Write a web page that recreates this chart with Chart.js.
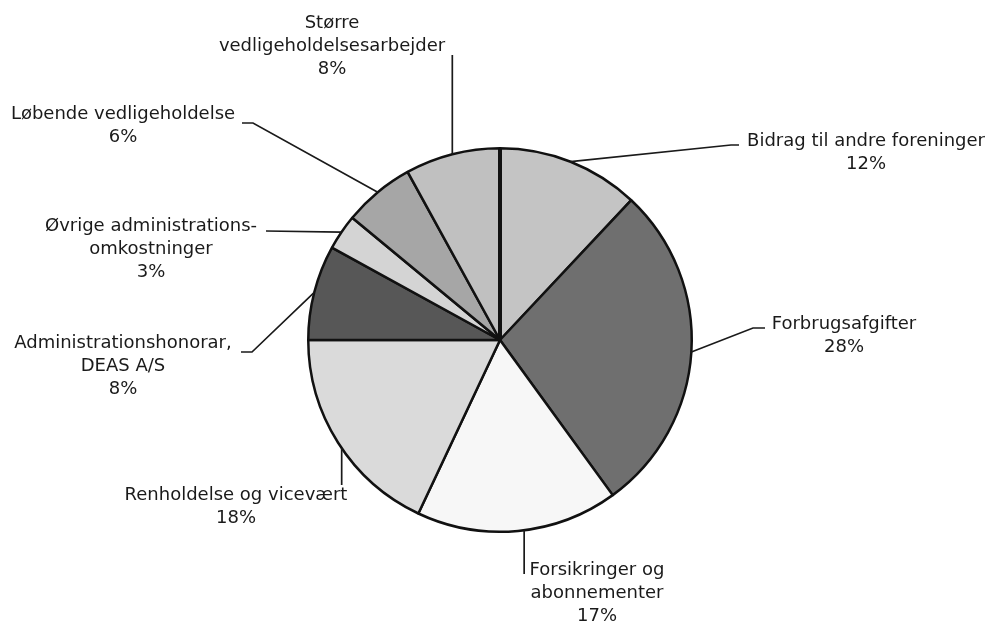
<!DOCTYPE html>
<html>
<head>
<meta charset="utf-8">
<script src="https://cdn.jsdelivr.net/npm/chart.js@4/dist/chart.umd.min.js"></script>
<style>
html,body{margin:0;padding:0;background:#fff;}
canvas{display:block;}
</style>
</head>
<body>
<canvas id="c" width="992" height="622"></canvas>
<script>
const categories = [
  'Bidrag til andre foreninger',
  'Forbrugsafgifter',
  'Forsikringer og abonnementer',
  'Renholdelse og vicevært',
  'Administrationshonorar, DEAS A/S',
  'Øvrige administrationsomkostninger',
  'Løbende vedligeholdelse',
  'Større vedligeholdelsesarbejder'
];
const shares = [12, 28, 17, 18, 8, 3, 6, 8];
const percentLabels = ['12%', '28%', '17%', '18%', '8%', '3%', '6%', '8%'];
const labelLines = [
  ['Bidrag til andre foreninger'],
  ['Forbrugsafgifter'],
  ['Forsikringer og', 'abonnementer'],
  ['Renholdelse og vicevært'],
  ['Administrationshonorar,', 'DEAS A/S'],
  ['Øvrige administrations-', 'omkostninger'],
  ['Løbende vedligeholdelse'],
  ['Større', 'vedligeholdelsesarbejder']
];
const sliceColors = ['#c4c4c4', '#6f6f6f', '#f7f7f7', '#dadada', '#575757', '#d4d4d4', '#a6a6a6', '#c0c0c0'];

// label placement (layout only)
const labelLayout = [
  {cx: 866, cy: 141, pts: [[739,145],[731,145]]},
  {cx: 844, cy: 324, pts: [[765,328],[753,328]]},
  {cx: 597, cy: 570, vert: 574, f: 0.47},
  {cx: 236, cy: 495, vert: 485, f: 0.47},
  {cx: 123, cy: 343, pts: [[241,352],[252,352]]},
  {cx: 151, cy: 226, pts: [[266,231]]},
  {cx: 123, cy: 114, pts: [[242,123],[253,123]]},
  {cx: 332, cy: 23, vert: 55}
];
const LINE_H = 23;

const labelPlugin = {
  id: 'pieLabels',
  afterDraw(chart) {
    const ctx = chart.ctx;
    const meta = chart.getDatasetMeta(0);
    ctx.save();
    // thick separator at the start angle
    const first = meta.data[0].getProps(['x','y','startAngle','outerRadius'], true);
    ctx.strokeStyle = '#111';
    ctx.lineWidth = 4;
    ctx.beginPath();
    ctx.moveTo(first.x, first.y);
    ctx.lineTo(first.x + Math.cos(first.startAngle) * first.outerRadius,
               first.y + Math.sin(first.startAngle) * first.outerRadius);
    ctx.stroke();

    ctx.font = '18px "DejaVu Sans", Verdana, sans-serif';
    ctx.textAlign = 'center';
    ctx.textBaseline = 'middle';
    meta.data.forEach((arc, i) => {
      const L = labelLayout[i];
      const p = arc.getProps(['x','y','startAngle','endAngle','outerRadius'], true);
      const f = L.f !== undefined ? L.f : 0.5;
      const a = p.startAngle + (p.endAngle - p.startAngle) * f;
      const ax = p.x + Math.cos(a) * p.outerRadius;
      const ay = p.y + Math.sin(a) * p.outerRadius;
      ctx.strokeStyle = '#1a1a1a';
      ctx.lineWidth = 1.7;
      ctx.beginPath();
      if (L.vert !== undefined) {
        ctx.moveTo(ax, L.vert);
        ctx.lineTo(ax, ay);
      } else {
        ctx.moveTo(L.pts[0][0], L.pts[0][1]);
        for (let k = 1; k < L.pts.length; k++) ctx.lineTo(L.pts[k][0], L.pts[k][1]);
        ctx.lineTo(ax, ay);
      }
      ctx.stroke();
      ctx.fillStyle = '#1a1a1a';
      const lines = labelLines[i].concat([percentLabels[i]]);
      lines.forEach((t, k) => ctx.fillText(t, L.cx, L.cy + k * LINE_H));
    });
    ctx.restore();
  }
};

new Chart(document.getElementById('c'), {
  type: 'pie',
  data: {
    labels: categories,
    datasets: [{
      data: shares,
      backgroundColor: sliceColors,
      borderColor: '#111',
      borderWidth: 2.5
    }]
  },
  options: {
    responsive: false,
    devicePixelRatio: 1,
    animation: false,
    layout: {padding: {top: 147, bottom: 89, left: 307, right: 299}},
    plugins: {legend: {display: false}, tooltip: {enabled: false}}
  },
  plugins: [labelPlugin]
});
</script>
</body>
</html>
